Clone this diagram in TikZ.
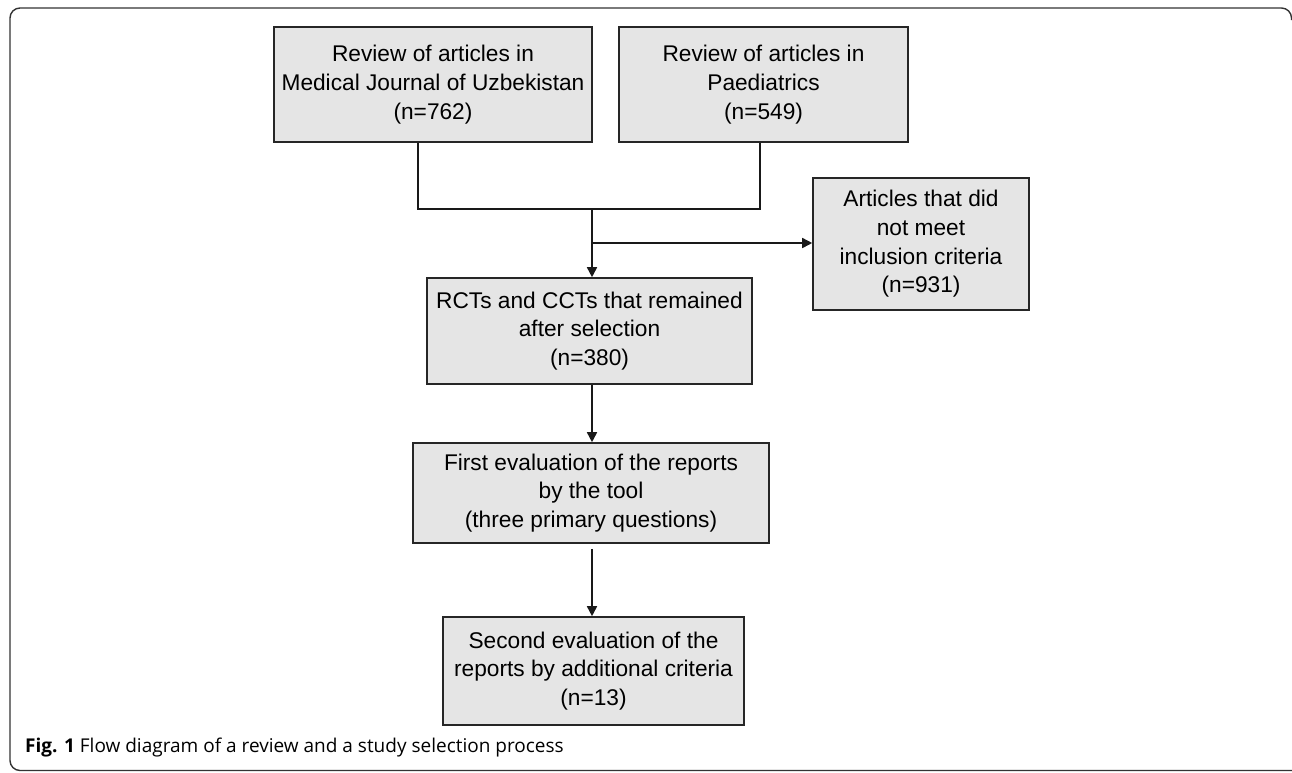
\documentclass[tikz,border=0pt]{standalone}
\usepackage{fontspec}
\setmainfont{Liberation Sans}
\newfontfamily\capfont{Open Sans}
\usetikzlibrary{arrows.meta}

\begin{document}
\begin{tikzpicture}
  [x=1pt,y=-1pt,
   box/.style={rectangle,draw=black!85,line width=1.6pt,fill=black!10,align=center,
     inner sep=0pt,font=\fontsize{22.7}{28.7}\selectfont},
   link/.style={line width=1.6pt,draw=black!90},
   arr/.style={link,-{Triangle[length=10pt,width=10pt]}}]
  \useasboundingbox (0,0) rectangle (1292,772);

  % frame
  \draw[line width=1.4pt,draw=black!80,rounded corners=10pt]
    (1291.5,20) |- (10,8) |- (1292,770.5);

  \node[box,minimum width=318pt,minimum height=115pt] (med) at (433,84.5)
    {Review of articles in\\Medical Journal of Uzbekistan\\(n=762)};
  \node[box,minimum width=289pt,minimum height=115pt] (paed) at (763.5,84.5)
    {Review of articles in\\Paediatrics\\(n=549)};
  \node[box,minimum width=325pt,minimum height=106pt] (rct) at (589.5,331)
    {RCTs and CCTs that remained\\after selection\\(n=380)};
  \node[box,minimum width=216pt,minimum height=132pt] (excl) at (921,244)
    {Articles that did\\not meet\\inclusion criteria\\(n=931)};
  \node[box,minimum width=356pt,minimum height=100pt] (eval1) at (591,493)
    {First evaluation of the reports\\by the tool\\(three primary questions)};
  \node[box,minimum width=301pt,minimum height=108pt] (eval2) at (593.5,671)
    {Second evaluation of the\\reports by additional criteria\\(n=13)};

  \coordinate (m) at (418,209);
  \coordinate (p) at (760,209);
  \coordinate (join) at (592,209);
  \coordinate (branch) at (592,243);

  \draw[link] (med.south -| m) -- (m) -- (p) -- (paed.south -| p);
  \draw[arr] (join) -- (rct.north -| join);
  \draw[arr] (branch) -- (excl.west |- branch);
  \draw[arr] (rct.south -| join) -- (eval1.north -| join);
  \draw[arr] ([yshift=-5pt]eval1.south -| join) -- (eval2.north -| join);

  \node[anchor=base west,inner sep=0pt,font=\capfont\fontsize{19}{23}\selectfont] (cap) at (25,752)
    {\textbf{Fig. 1} Flow diagram of a review and a study selection process};
\end{tikzpicture}
\end{document}
